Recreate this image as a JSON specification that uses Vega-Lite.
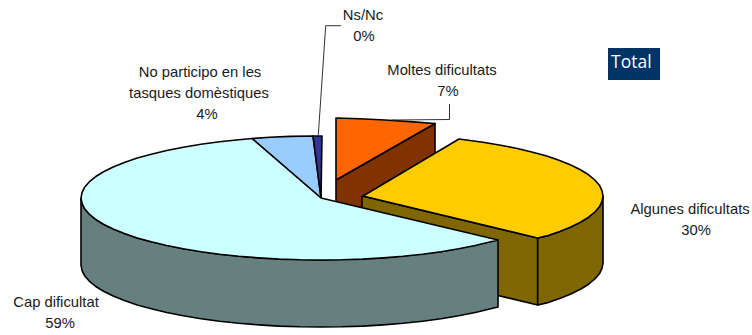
{
"$schema":"https://vega.github.io/schema/vega-lite/v6.json",
"width":752,"height":335,"padding":0,"autosize":{"type":"none"},
"background":"white","view":{"stroke":null},
"datasets":{
"faces":[
{"part":"Moltes lateral","i":1,"x":336,"y":180},{"part":"Moltes lateral","i":2,"x":435,"y":123.5},{"part":"Moltes lateral","i":3,"x":435,"y":190},{"part":"Moltes lateral","i":4,"x":336,"y":247},{"part":"Moltes lateral","i":5,"x":336,"y":180},
{"part":"Moltes dificultats","i":1,"x":336,"y":180},{"part":"Moltes dificultats","i":2,"x":336,"y":118},{"part":"Moltes dificultats","i":3,"x":360,"y":118.7},{"part":"Moltes dificultats","i":4,"x":385,"y":120},{"part":"Moltes dificultats","i":5,"x":410,"y":121.6},{"part":"Moltes dificultats","i":6,"x":435,"y":123.5},{"part":"Moltes dificultats","i":7,"x":336,"y":180},
{"part":"Algunes frontal","i":1,"x":362,"y":196},{"part":"Algunes frontal","i":2,"x":537.7,"y":238},{"part":"Algunes frontal","i":3,"x":537.7,"y":305},{"part":"Algunes frontal","i":4,"x":362,"y":263},{"part":"Algunes frontal","i":5,"x":362,"y":196},
{"part":"Algunes lateral","i":1,"x":603,"y":196},{"part":"Algunes lateral","i":2,"x":602,"y":201.4},{"part":"Algunes lateral","i":3,"x":599.4,"y":206.8},{"part":"Algunes lateral","i":4,"x":594.8,"y":212},{"part":"Algunes lateral","i":5,"x":588.6,"y":217.2},{"part":"Algunes lateral","i":6,"x":580.4,"y":222.2},{"part":"Algunes lateral","i":7,"x":570.8,"y":227},{"part":"Algunes lateral","i":8,"x":559.6,"y":231.6},{"part":"Algunes lateral","i":9,"x":546.8,"y":235.9},{"part":"Algunes lateral","i":10,"x":537.7,"y":238},{"part":"Algunes lateral","i":11,"x":537.7,"y":305},{"part":"Algunes lateral","i":12,"x":546.8,"y":302.9},{"part":"Algunes lateral","i":13,"x":559.6,"y":298.6},{"part":"Algunes lateral","i":14,"x":570.8,"y":294},{"part":"Algunes lateral","i":15,"x":580.4,"y":289.2},{"part":"Algunes lateral","i":16,"x":588.6,"y":284.2},{"part":"Algunes lateral","i":17,"x":594.8,"y":279},{"part":"Algunes lateral","i":18,"x":599.4,"y":273.8},{"part":"Algunes lateral","i":19,"x":602,"y":268.4},{"part":"Algunes lateral","i":20,"x":603,"y":263},{"part":"Algunes lateral","i":21,"x":603,"y":196},
{"part":"Algunes dificultats","i":1,"x":363,"y":196},{"part":"Algunes dificultats","i":2,"x":459,"y":139},{"part":"Algunes dificultats","i":3,"x":483,"y":142.3},{"part":"Algunes dificultats","i":4,"x":500.7,"y":145.2},{"part":"Algunes dificultats","i":5,"x":517.3,"y":148.5},{"part":"Algunes dificultats","i":6,"x":532.7,"y":152.2},{"part":"Algunes dificultats","i":7,"x":546.8,"y":156.1},{"part":"Algunes dificultats","i":8,"x":559.6,"y":160.4},{"part":"Algunes dificultats","i":9,"x":570.8,"y":165},{"part":"Algunes dificultats","i":10,"x":580.4,"y":169.8},{"part":"Algunes dificultats","i":11,"x":588.6,"y":174.8},{"part":"Algunes dificultats","i":12,"x":594.8,"y":180},{"part":"Algunes dificultats","i":13,"x":599.4,"y":185.2},{"part":"Algunes dificultats","i":14,"x":602,"y":190.6},{"part":"Algunes dificultats","i":15,"x":603,"y":196},{"part":"Algunes dificultats","i":16,"x":602,"y":201.4},{"part":"Algunes dificultats","i":17,"x":599.4,"y":206.8},{"part":"Algunes dificultats","i":18,"x":594.8,"y":212},{"part":"Algunes dificultats","i":19,"x":588.6,"y":217.2},{"part":"Algunes dificultats","i":20,"x":580.4,"y":222.2},{"part":"Algunes dificultats","i":21,"x":570.8,"y":227},{"part":"Algunes dificultats","i":22,"x":559.6,"y":231.6},{"part":"Algunes dificultats","i":23,"x":546.8,"y":235.9},{"part":"Algunes dificultats","i":24,"x":537.7,"y":238},{"part":"Algunes dificultats","i":25,"x":363,"y":196},
{"part":"No participo","i":1,"x":321,"y":198},{"part":"No participo","i":2,"x":252,"y":138.5},{"part":"No participo","i":3,"x":270,"y":137.3},{"part":"No participo","i":4,"x":290,"y":136.4},{"part":"No participo","i":5,"x":313,"y":136},{"part":"No participo","i":6,"x":321,"y":198},
{"part":"Ns/Nc","i":1,"x":321,"y":198},{"part":"Ns/Nc","i":2,"x":313,"y":136},{"part":"Ns/Nc","i":3,"x":322,"y":136},{"part":"Ns/Nc","i":4,"x":321,"y":198},
{"part":"Cap lateral","i":1,"x":81,"y":198},{"part":"Cap lateral","i":2,"x":82,"y":203.4},{"part":"Cap lateral","i":3,"x":84.6,"y":208.8},{"part":"Cap lateral","i":4,"x":89.2,"y":214.1},{"part":"Cap lateral","i":5,"x":95.4,"y":219.2},{"part":"Cap lateral","i":6,"x":103.5,"y":224.2},{"part":"Cap lateral","i":7,"x":113.2,"y":229},{"part":"Cap lateral","i":8,"x":124.4,"y":233.6},{"part":"Cap lateral","i":9,"x":137.2,"y":237.9},{"part":"Cap lateral","i":10,"x":151.3,"y":241.8},{"part":"Cap lateral","i":11,"x":183.3,"y":248.8},{"part":"Cap lateral","i":12,"x":219.5,"y":254.2},{"part":"Cap lateral","i":13,"x":258.8,"y":257.9},{"part":"Cap lateral","i":14,"x":321,"y":260},{"part":"Cap lateral","i":15,"x":383.2,"y":257.9},{"part":"Cap lateral","i":16,"x":441,"y":251.7},{"part":"Cap lateral","i":17,"x":498,"y":240},{"part":"Cap lateral","i":18,"x":498,"y":307},{"part":"Cap lateral","i":19,"x":490.7,"y":308.8},{"part":"Cap lateral","i":20,"x":475.3,"y":312.5},{"part":"Cap lateral","i":21,"x":458.7,"y":315.8},{"part":"Cap lateral","i":22,"x":441,"y":318.7},{"part":"Cap lateral","i":23,"x":422.5,"y":321.2},{"part":"Cap lateral","i":24,"x":403.1,"y":323.3},{"part":"Cap lateral","i":25,"x":383.2,"y":324.9},{"part":"Cap lateral","i":26,"x":362.8,"y":326.1},{"part":"Cap lateral","i":27,"x":341.9,"y":326.8},{"part":"Cap lateral","i":28,"x":321,"y":327},{"part":"Cap lateral","i":29,"x":300.1,"y":326.8},{"part":"Cap lateral","i":30,"x":279.2,"y":326.1},{"part":"Cap lateral","i":31,"x":258.8,"y":324.9},{"part":"Cap lateral","i":32,"x":238.9,"y":323.3},{"part":"Cap lateral","i":33,"x":219.5,"y":321.2},{"part":"Cap lateral","i":34,"x":201,"y":318.7},{"part":"Cap lateral","i":35,"x":183.3,"y":315.8},{"part":"Cap lateral","i":36,"x":166.7,"y":312.5},{"part":"Cap lateral","i":37,"x":151.3,"y":308.8},{"part":"Cap lateral","i":38,"x":137.2,"y":304.9},{"part":"Cap lateral","i":39,"x":124.4,"y":300.6},{"part":"Cap lateral","i":40,"x":113.2,"y":296},{"part":"Cap lateral","i":41,"x":103.5,"y":291.2},{"part":"Cap lateral","i":42,"x":95.4,"y":286.2},{"part":"Cap lateral","i":43,"x":89.2,"y":281.1},{"part":"Cap lateral","i":44,"x":84.6,"y":275.8},{"part":"Cap lateral","i":45,"x":82,"y":270.4},{"part":"Cap lateral","i":46,"x":81,"y":265},{"part":"Cap lateral","i":47,"x":81,"y":198},
{"part":"Cap dificultat","i":1,"x":321,"y":198},{"part":"Cap dificultat","i":2,"x":252,"y":138.5},{"part":"Cap dificultat","i":3,"x":238.9,"y":139.7},{"part":"Cap dificultat","i":4,"x":219.5,"y":141.8},{"part":"Cap dificultat","i":5,"x":201,"y":144.3},{"part":"Cap dificultat","i":6,"x":183.3,"y":147.2},{"part":"Cap dificultat","i":7,"x":166.7,"y":150.5},{"part":"Cap dificultat","i":8,"x":151.3,"y":154.2},{"part":"Cap dificultat","i":9,"x":137.2,"y":158.1},{"part":"Cap dificultat","i":10,"x":124.4,"y":162.4},{"part":"Cap dificultat","i":11,"x":113.2,"y":167},{"part":"Cap dificultat","i":12,"x":103.5,"y":171.8},{"part":"Cap dificultat","i":13,"x":95.4,"y":176.8},{"part":"Cap dificultat","i":14,"x":89.2,"y":181.9},{"part":"Cap dificultat","i":15,"x":84.6,"y":187.2},{"part":"Cap dificultat","i":16,"x":82,"y":192.6},{"part":"Cap dificultat","i":17,"x":81,"y":198},{"part":"Cap dificultat","i":18,"x":82,"y":203.4},{"part":"Cap dificultat","i":19,"x":84.6,"y":208.8},{"part":"Cap dificultat","i":20,"x":89.2,"y":214.1},{"part":"Cap dificultat","i":21,"x":95.4,"y":219.2},{"part":"Cap dificultat","i":22,"x":103.5,"y":224.2},{"part":"Cap dificultat","i":23,"x":113.2,"y":229},{"part":"Cap dificultat","i":24,"x":124.4,"y":233.6},{"part":"Cap dificultat","i":25,"x":137.2,"y":237.9},{"part":"Cap dificultat","i":26,"x":151.3,"y":241.8},{"part":"Cap dificultat","i":27,"x":166.7,"y":245.5},{"part":"Cap dificultat","i":28,"x":183.3,"y":248.8},{"part":"Cap dificultat","i":29,"x":201,"y":251.7},{"part":"Cap dificultat","i":30,"x":219.5,"y":254.2},{"part":"Cap dificultat","i":31,"x":238.9,"y":256.3},{"part":"Cap dificultat","i":32,"x":258.8,"y":257.9},{"part":"Cap dificultat","i":33,"x":279.2,"y":259.1},{"part":"Cap dificultat","i":34,"x":300.1,"y":259.8},{"part":"Cap dificultat","i":35,"x":321,"y":260},{"part":"Cap dificultat","i":36,"x":341.9,"y":259.8},{"part":"Cap dificultat","i":37,"x":362.8,"y":259.1},{"part":"Cap dificultat","i":38,"x":383.2,"y":257.9},{"part":"Cap dificultat","i":39,"x":403.1,"y":256.3},{"part":"Cap dificultat","i":40,"x":422.5,"y":254.2},{"part":"Cap dificultat","i":41,"x":441,"y":251.7},{"part":"Cap dificultat","i":42,"x":458.7,"y":248.8},{"part":"Cap dificultat","i":43,"x":475.3,"y":245.5},{"part":"Cap dificultat","i":44,"x":490.7,"y":241.8},{"part":"Cap dificultat","i":45,"x":498,"y":240},{"part":"Cap dificultat","i":46,"x":321,"y":198}
],
"leaders":[
{"line":"Ns/Nc","i":1,"x":341,"y":25.7},{"line":"Ns/Nc","i":2,"x":325.7,"y":25.7},{"line":"Ns/Nc","i":3,"x":318.3,"y":135},
{"line":"Moltes","i":1,"x":449.5,"y":104},{"line":"Moltes","i":2,"x":449.5,"y":119.5},{"line":"Moltes","i":3,"x":392,"y":120}
],
"labels":[
{"x":363,"y":16,"t":"Ns/Nc"},{"x":364,"y":37,"t":"0%"},
{"x":200,"y":73,"t":"No participo en les"},{"x":199,"y":94,"t":"tasques domèstiques"},{"x":207,"y":115,"t":"4%"},
{"x":442,"y":71,"t":"Moltes dificultats"},{"x":448,"y":92,"t":"7%"},
{"x":690,"y":210,"t":"Algunes dificultats"},{"x":696,"y":231,"t":"30%"},
{"x":56,"y":303,"t":"Cap dificultat"},{"x":60,"y":324,"t":"59%"}
]
},
"layer":[
{"data":{"name":"faces"},
"mark":{"type":"line","stroke":"black","strokeWidth":1.6,"strokeJoin":"round"},
"encoding":{
"x":{"field":"x","type":"quantitative","scale":{"domain":[0,752],"range":[0,752],"nice":false,"zero":false},"axis":null},
"y":{"field":"y","type":"quantitative","scale":{"domain":[335,0],"range":[335,0],"nice":false,"zero":false},"axis":null},
"order":{"field":"i","type":"quantitative"},
"detail":{"field":"part"},
"fill":{"field":"part","type":"nominal","legend":null,"scale":{"domain":["Moltes lateral","Moltes dificultats","Algunes frontal","Algunes lateral","Algunes dificultats","No participo","Ns/Nc","Cap lateral","Cap dificultat"],"range":["#803300","#FF6600","#806600","#806600","#FFCC00","#99CCFF","#333399","#668080","#CCFFFF"]}}
}},
{"data":{"name":"leaders"},
"mark":{"type":"line","stroke":"#333333","strokeWidth":1},
"encoding":{
"x":{"field":"x","type":"quantitative","scale":{"domain":[0,752],"range":[0,752],"nice":false,"zero":false},"axis":null},
"y":{"field":"y","type":"quantitative","scale":{"domain":[335,0],"range":[335,0],"nice":false,"zero":false},"axis":null},
"order":{"field":"i","type":"quantitative"},
"detail":{"field":"line"}
}},
{"data":{"name":"labels"},
"mark":{"type":"text","font":"Liberation Sans","fontSize":14.8,"color":"#1a1a1a","align":"center","baseline":"middle"},
"encoding":{
"x":{"field":"x","type":"quantitative","scale":{"domain":[0,752],"range":[0,752],"nice":false,"zero":false},"axis":null},
"y":{"field":"y","type":"quantitative","scale":{"domain":[335,0],"range":[335,0],"nice":false,"zero":false},"axis":null},
"text":{"field":"t"}
}},
{"data":{"values":[{"x":608,"x2":660,"y":48,"y2":80}]},
"mark":{"type":"rect","color":"#003366"},
"encoding":{
"x":{"field":"x","type":"quantitative","scale":{"domain":[0,752],"range":[0,752],"nice":false,"zero":false},"axis":null},"x2":{"field":"x2"},
"y":{"field":"y","type":"quantitative","scale":{"domain":[335,0],"range":[335,0],"nice":false,"zero":false},"axis":null},"y2":{"field":"y2"}
}},
{"data":{"values":[{"x":611,"y":63,"t":"Total"}]},
"mark":{"type":"text","font":"Open Sans","fontSize":17.5,"color":"white","align":"left","baseline":"middle"},
"encoding":{
"x":{"field":"x","type":"quantitative","scale":{"domain":[0,752],"range":[0,752],"nice":false,"zero":false},"axis":null},
"y":{"field":"y","type":"quantitative","scale":{"domain":[335,0],"range":[335,0],"nice":false,"zero":false},"axis":null},
"text":{"field":"t"}
}}
]
}
